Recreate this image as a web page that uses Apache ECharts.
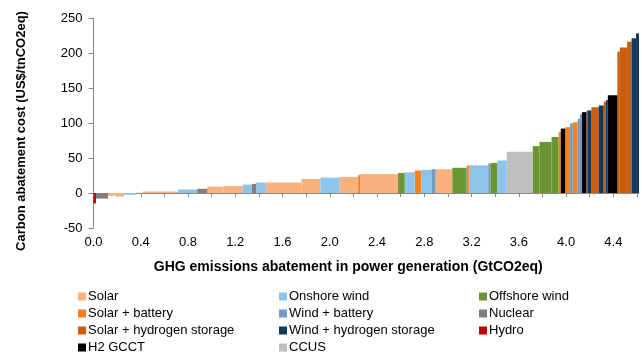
<!DOCTYPE html>
<html>
<head>
<meta charset="utf-8">
<script src="https://cdn.jsdelivr.net/npm/echarts@6/dist/echarts.min.js"></script>
<style>
  html, body { margin: 0; padding: 0; background: #fff; }
  #chart { width: 642px; height: 354px; }
</style>
</head>
<body>
<div id="chart"></div>
<script>
// Abatement cost curve: variable-width bars, sorted by cost.
const categories = [
  'Solar', 'Solar + battery', 'Solar + hydrogen storage', 'H2 GCCT',
  'Onshore wind', 'Wind + battery', 'Wind + hydrogen storage', 'CCUS',
  'Offshore wind', 'Nuclear', 'Hydro'
];
const catColors = [
  '#F9B17E', '#F5821F', '#C95E0C', '#000000',
  '#8EC3EA', '#7299C6', '#10395F', '#BFBFBF',
  '#6A9533', '#7F7F7F', '#C00000'
];

// one entry per bar, left to right
const barCats = [
  'Hydro', 'Nuclear', 'Solar', 'Solar', 'Onshore wind', 'Solar', 'Solar',
  'Onshore wind', 'Nuclear', 'Solar', 'Solar', 'Onshore wind', 'Nuclear',
  'Onshore wind', 'Solar', 'Solar', 'Onshore wind', 'Solar', 'Solar + battery',
  'Solar', 'Offshore wind', 'Onshore wind', 'Solar + battery', 'Onshore wind',
  'Wind + battery', 'Solar', 'Offshore wind', 'Solar + battery', 'Onshore wind',
  'Wind + battery', 'Offshore wind', 'Onshore wind', 'CCUS', 'Offshore wind',
  'Offshore wind', 'Offshore wind', 'Solar + battery', 'H2 GCCT',
  'Solar + battery', 'Wind + battery', 'Solar + battery', 'Wind + battery',
  'Wind + battery', 'H2 GCCT', 'Solar + hydrogen storage',
  'Wind + hydrogen storage', 'Solar + hydrogen storage',
  'Wind + hydrogen storage', 'Solar + hydrogen storage',
  'Wind + hydrogen storage', 'H2 GCCT', 'Solar + hydrogen storage',
  'Solar + hydrogen storage', 'Solar + hydrogen storage',
  'Wind + hydrogen storage', 'Wind + hydrogen storage'
];
const barWidths = [
  0.021, 0.102, 0.068, 0.068, 0.102, 0.057, 0.297,
  0.164, 0.085, 0.136, 0.161, 0.079, 0.037,
  0.081, 0.302, 0.161, 0.161, 0.158, 0.019,
  0.319, 0.056, 0.085, 0.057, 0.085,
  0.034, 0.142, 0.121, 0.019, 0.164,
  0.019, 0.057, 0.081, 0.220, 0.057,
  0.102, 0.059, 0.019, 0.037,
  0.042, 0.022, 0.042, 0.019,
  0.017, 0.038, 0.008,
  0.034, 0.062,
  0.042, 0.020,
  0.015, 0.081, 0.021,
  0.061, 0.038,
  0.038, 0.025
];
const barValues = [
  -15, -8, -4, -5, -2.5, 0.5, 2,
  5, 6, 9, 10, 12, 13,
  15, 15, 20, 22, 23, 25.5,
  27, 28.5, 29.5, 32, 33,
  34, 34, 36, 39.5, 39.5,
  42, 43, 46.5, 59, 67,
  73, 80, 87, 92,
  94, 99.5, 101, 106,
  112.5, 115.5, 117,
  118, 122.5,
  125, 130.5,
  133, 139.5, 202,
  208, 216,
  221, 228
];

const xTicks = [0, 0.4, 0.8, 1.2, 1.6, 2.0, 2.4, 2.8, 3.2, 3.6, 4.0, 4.4];

// build [x0, x1, value] per bar, grouped by category
const dataByCat = {};
categories.forEach(c => { dataByCat[c] = []; });
let acc = 0;
for (let i = 0; i < barWidths.length; i++) {
  dataByCat[barCats[i]].push([acc, acc + barWidths[i], barValues[i]]);
  acc += barWidths[i];
}
const xMax = acc;

function renderBar(params, api) {
  const p0 = api.coord([api.value(0), 0]);
  const p1 = api.coord([api.value(1), api.value(2)]);
  return {
    type: 'rect',
    shape: {
      x: p0[0],
      y: Math.min(p0[1], p1[1]),
      width: p1[0] - p0[0],
      height: Math.abs(p1[1] - p0[1])
    },
    style: api.style()
  };
}

const FONT = 'Liberation Sans, Arial, sans-serif';
const chart = echarts.init(document.getElementById('chart'), null, { renderer: 'canvas' });

const legendBase = {
  orient: 'vertical',
  icon: 'rect',
  itemWidth: 8,
  itemHeight: 8,
  itemGap: 0,
  padding: 0,
  height: 90,
  selectedMode: false,
  textStyle: { fontFamily: FONT, fontSize: 13, color: '#000', lineHeight: 17, padding: [0, 0, 0, -3] }
};

chart.setOption({
  animation: false,
  backgroundColor: '#fff',
  color: catColors,
  grid: { left: 93.5, right: 3, top: 18, bottom: 126, containLabel: false },
  legend: [
    Object.assign({}, legendBase, { left: 78, top: 288, data: categories.slice(0, 4) }),
    Object.assign({}, legendBase, { left: 279, top: 288, data: categories.slice(4, 8) }),
    Object.assign({}, legendBase, { left: 479, top: 288, data: categories.slice(8, 11) })
  ],
  xAxis: {
    type: 'value',
    min: 0,
    max: xMax,
    interval: 0.2,
    name: 'GHG emissions abatement in power generation (GtCO2eq)',
    nameLocation: 'middle',
    nameMoveOverlap: false,
    nameGap: 32,
    nameTextStyle: { fontFamily: FONT, fontSize: 14, fontWeight: 'bold', color: '#000', padding: [0, 36, 0, 0] },
    axisLine: { onZero: true, lineStyle: { color: '#898989', width: 1 } },
    axisTick: { length: 4, lineStyle: { color: '#898989' } },
    axisLabel: {
      margin: 8,
      showMaxLabel: false,
      fontFamily: FONT, fontSize: 13, color: '#000',
      formatter: v => {
        const hit = xTicks.find(t => Math.abs(t - v) < 1e-6);
        return hit === undefined ? '' : hit.toFixed(1);
      }
    },
    splitLine: { show: false }
  },
  yAxis: {
    type: 'value',
    min: -50,
    max: 250,
    interval: 50,
    name: 'Carbon abatement cost (US$/tnCO2eq)',
    nameLocation: 'middle',
    nameGap: 66,
    nameTextStyle: { fontFamily: FONT, fontSize: 13, fontWeight: 'bold', color: '#000', padding: [0, 16, 0, 0] },
    axisLine: { show: true, lineStyle: { color: '#898989', width: 1 } },
    axisTick: { show: true, length: 5, lineStyle: { color: '#898989' } },
    axisLabel: { margin: 11, fontFamily: FONT, fontSize: 13, color: '#000' },
    splitLine: { show: false }
  },
  series: categories.map(c => ({
    name: c,
    type: 'custom',
    renderItem: renderBar,
    encode: { x: [0, 1], y: 2 },
    data: dataByCat[c]
  }))
});
</script>
</body>
</html>
